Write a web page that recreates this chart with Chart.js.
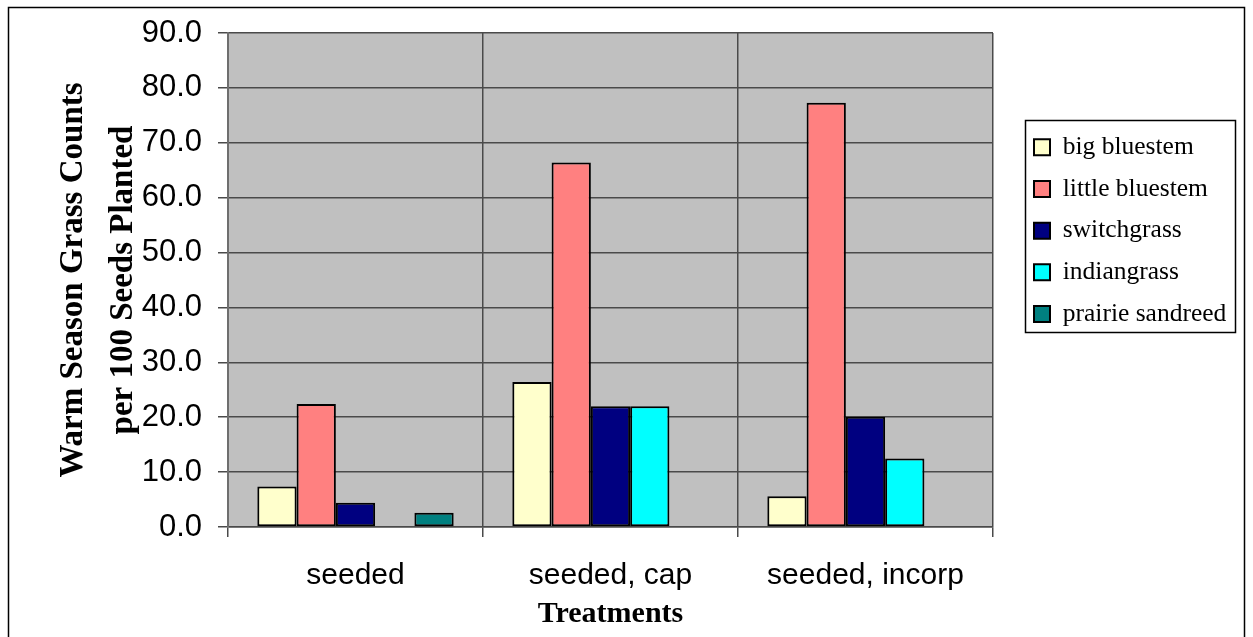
<!DOCTYPE html>
<html>
<head>
<meta charset="utf-8">
<script src="https://cdn.jsdelivr.net/npm/chart.js@4.4.1/dist/chart.umd.min.js"></script>
<style>
  html, body { margin: 0; padding: 0; background: #ffffff; overflow: hidden; }
  canvas { display: block; }
</style>
</head>
<body>
<canvas id="chart" width="1253" height="637"></canvas>
<script>
// Treatments on the x axis
const categories = ['seeded', 'seeded, cap', 'seeded, incorp'];

// Seedling counts per 100 seeds planted, one array per grass
const bigBluestem     = [7.4, 26.4, 5.6];
const littleBluestem  = [22.4, 66.4, 77.3];
const switchgrass     = [4.4, 22.0, 20.1];
const indiangrass     = [null, 22.0, 12.5];
const prairieSandreed = [2.6, null, null];

// Series names shown in the legend
const seriesNames = ['big bluestem', 'little bluestem', 'switchgrass', 'indiangrass', 'prairie sandreed'];

// Value axis range
const yMin = 0;
const yMax = 90;
const yStep = 10;

const seriesValues = [bigBluestem, littleBluestem, switchgrass, indiangrass, prairieSandreed];
const seriesColors = ['#FFFFCC', '#FF8080', '#000080', '#00FFFF', '#008080'];

const GRID = '#4a4a4a';
const LEGEND_FRAME = { left: 1025, top: 120, right: 1235, bottom: 332 };

// White page, outer border, grey plot area, and the framed legend box
const framePlugin = {
  id: 'framePlugin',
  beforeDraw(chart) {
    const { ctx, chartArea: a } = chart;
    ctx.save();
    ctx.fillStyle = '#ffffff';
    ctx.fillRect(0, 0, chart.width, chart.height);
    ctx.fillStyle = '#c0c0c0';
    ctx.fillRect(a.left, a.top, a.right - a.left, a.bottom - a.top);
    ctx.strokeStyle = '#000000';
    ctx.lineWidth = 1.5;
    ctx.strokeRect(8.5, 7.5, chart.width - 17, chart.height + 20);
    ctx.restore();
  },
  afterLayout(chart) {
    // place the legend items inside the framed box to the right of the plot
    const lg = chart.legend;
    if (!lg) return;
    const pad = lg.options.labels.padding;
    lg.left = LEGEND_FRAME.left - pad + 9;
    lg.right = LEGEND_FRAME.right;
    lg.top = LEGEND_FRAME.top + 14.5 - pad;
    lg.bottom = LEGEND_FRAME.bottom + 120;
    lg.width = lg.right - lg.left;
    lg.height = lg.bottom - lg.top;
  },
  afterDraw(chart) {
    const { ctx } = chart;
    ctx.save();
    ctx.strokeStyle = '#000000';
    ctx.lineWidth = 1.5;
    ctx.strokeRect(LEGEND_FRAME.left + 0.5, LEGEND_FRAME.top + 0.5,
      LEGEND_FRAME.right - LEGEND_FRAME.left, LEGEND_FRAME.bottom - LEGEND_FRAME.top);
    ctx.restore();
  }
};

const datasets = seriesNames.map((name, i) => ({
  label: name,
  data: seriesValues[i],
  backgroundColor: seriesColors[i],
  borderColor: '#000000',
  borderWidth: 2,
  borderSkipped: false,
  barPercentage: 1.0,
  categoryPercentage: 0.77
}));

new Chart(document.getElementById('chart'), {
  type: 'bar',
  data: { labels: categories, datasets },
  plugins: [framePlugin],
  options: {
    responsive: false,
    animation: false,
    devicePixelRatio: 1,
    layout: { padding: { left: 0, right: 260, top: 33, bottom: 0 } },
    plugins: {
      tooltip: { enabled: false },
      legend: {
        display: true,
        position: 'chartArea',
        align: 'start',
        labels: {
          color: '#000000',
          font: { family: "'Liberation Serif', 'Times New Roman', serif", size: 25.5 },
          boxWidth: 16,
          boxHeight: 16,
          padding: 16.2
        }
      }
    },
    scales: {
      x: {
        offset: true,
        grid: {
          offset: true,
          color: GRID,
          lineWidth: 1.5,
          tickLength: 10,
          tickColor: GRID
        },
        border: { display: true, color: GRID, width: 1.5 },
        ticks: {
          color: '#000000',
          padding: 21,
          font: { family: "'Liberation Sans', Arial, sans-serif", size: 30 }
        },
        title: {
          display: true,
          text: 'Treatments',
          color: '#000000',
          font: { family: "'Liberation Serif', 'Times New Roman', serif", size: 30, weight: 'bold' },
          padding: { top: 0, bottom: 5 }
        },
        afterFit(scale) { scale.height = 110; }
      },
      y: {
        min: yMin,
        max: yMax,
        grid: {
          color: GRID,
          lineWidth: 1.5,
          tickLength: 10,
          tickColor: GRID
        },
        border: { display: true, color: '#6e6e6e', width: 2 },
        ticks: {
          stepSize: yStep,
          color: '#000000',
          padding: 16,
          font: { family: "'Liberation Sans', Arial, sans-serif", size: 31, lineHeight: 1 },
          callback: (v) => Number(v).toFixed(1)
        },
        title: {
          display: true,
          text: ['Warm Season Grass Counts', 'per 100 Seeds Planted'],
          color: '#000000',
          font: { family: "'Liberation Serif', 'Times New Roman', serif", size: 33, weight: 'bold', lineHeight: 1.5 },
          padding: { top: 49, bottom: 0 }
        },
        afterFit(scale) { scale.width = 228; }
      }
    }
  }
});
</script>
</body>
</html>
